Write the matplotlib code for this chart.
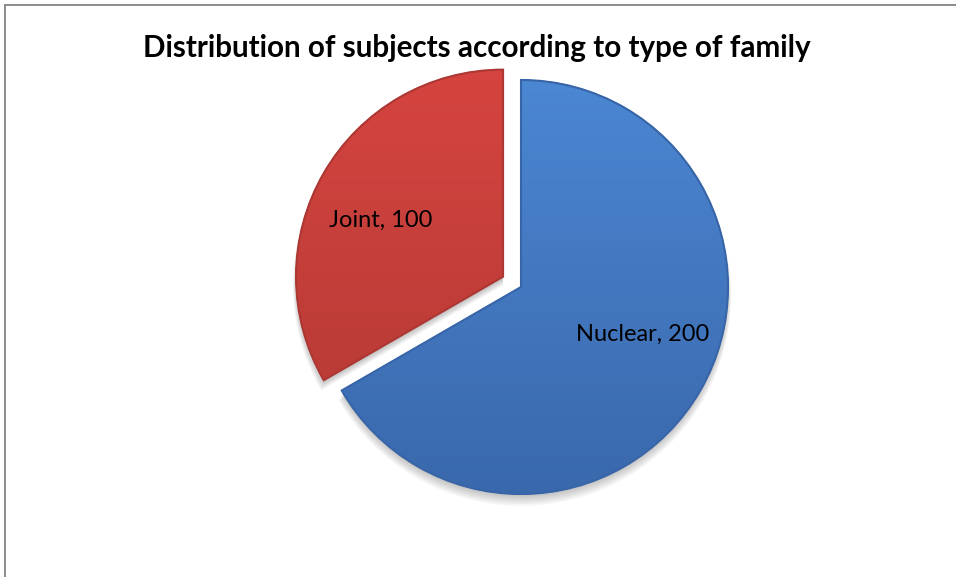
import numpy as np
import matplotlib
matplotlib.use("Agg")
import matplotlib.pyplot as plt
from matplotlib.lines import Line2D
from matplotlib.patches import Wedge
from matplotlib.colors import LinearSegmentedColormap

# --- Données ---
titre = "Distribution of subjects according to type of family"
categories = ["Nuclear", "Joint"]
valeurs = [200, 100]
eclatement = [0, 0.1]

# couleurs haut / bas pour le dégradé de chaque part
couleurs_haut = ["#4d8ad6", "#d84540"]
couleurs_bas = ["#3865a8", "#ad3733"]

plt.rcParams['font.family'] = ['Lato', 'DejaVu Sans']

fig = plt.figure(figsize=(9.56, 5.77), dpi=100)

# cadre gris (gauche + haut)
fig.add_artist(Line2D([4.5 / 956, 4.5 / 956], [0, 572 / 577], color="#8c8c8c", lw=1.4))
fig.add_artist(Line2D([4.5 / 956, 1], [572 / 577, 572 / 577], color="#8c8c8c", lw=1.4))

fig.text(477 / 956, 1 - 48 / 577, titre, ha="center", va="center",
         fontsize=21.3, fontweight="bold", color="black")

# axes carrés centrés sur le camembert
r_px = 207
demi = 1.2 * r_px
cx, cy = 521, 577 - 287
ax = fig.add_axes([(cx - demi) / 956, (cy - demi) / 577, 2 * demi / 956, 2 * demi / 577])
ax.axis("off")

parts, _ = ax.pie(valeurs, explode=eclatement, startangle=90, counterclock=False,
                  radius=1.0, wedgeprops=dict(linewidth=0.8))
ax.set_xlim(-1.2, 1.2)
ax.set_ylim(-1.2, 1.2)
ax.set_aspect("auto")

gradient = np.linspace(0, 1, 256).reshape(-1, 1)
for i, part in enumerate(parts):
    part.set_facecolor(couleurs_bas[i])
    part.set_edgecolor(couleurs_bas[i])
    part.set_zorder(1)

    # ombre douce décalée vers le bas
    for k in range(6):
        ombre = Wedge((part.center[0], part.center[1] - 0.012 - 0.006 * k),
                      part.r + 0.003 * k, part.theta1, part.theta2,
                      color="black", alpha=0.04, lw=0, zorder=0)
        ax.add_patch(ombre)

    cmap = LinearSegmentedColormap.from_list("g%d" % i, [couleurs_bas[i], couleurs_haut[i]])
    img = ax.imshow(gradient, cmap=cmap, extent=(-1.2, 1.2, -1.2, 1.2),
                    origin="lower", aspect="auto", zorder=2)
    img.set_clip_path(part)
    # liseré sombre pour l'effet de biseau
    bord = Wedge(part.center, part.r, part.theta1, part.theta2,
                 fill=False, edgecolor=couleurs_bas[i], lw=1.5, zorder=3)
    ax.add_patch(bord)

    # étiquette "Nom, valeur"
    theta = np.deg2rad((part.theta1 + part.theta2) / 2 + 7)
    dist = 0.64
    x = part.center[0] + dist * np.cos(theta)
    y = part.center[1] + dist * np.sin(theta) + 0.02
    ax.text(x, y, f"{categories[i]}, {valeurs[i]}", ha="center", va="center",
            fontsize=17, color="black", zorder=5)

fig.savefig("out.png", dpi=100)
